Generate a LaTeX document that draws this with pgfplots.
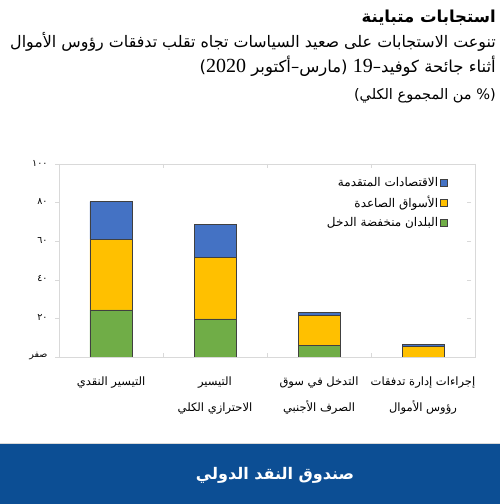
\documentclass[border=0pt]{standalone}
\usepackage{fontspec}
\usepackage{pgfplots}
\pgfplotsset{compat=1.18}
\setmainfont{DejaVu Sans}
\newfontfamily\arabicfont[Script=Arabic]{DejaVu Sans}
\newfontfamily\latinserif{Liberation Serif}
\TeXXeTstate=1
\definecolor{cblue}{HTML}{4472C4}
\definecolor{cyellow}{HTML}{FFC000}
\definecolor{cgreen}{HTML}{70AD47}
\definecolor{cedge}{HTML}{404040}
\definecolor{footblue}{HTML}{0C4E94}
\definecolor{framegray}{HTML}{D9D9D9}
\begin{document}
\begin{tikzpicture}
% header texts
\node[anchor=east, inner sep=0pt, font=\arabicfont\bfseries\fontsize{16.5}{18}\selectfont] at (496pt,486pt) {\beginR استجابات متباينة\endR};
\node[anchor=east, inner sep=0pt, font=\arabicfont\fontsize{15.9}{18}\selectfont] at (496pt,462pt) {\beginR تنوعت الاستجابات على صعيد السياسات تجاه تقلب تدفقات رؤوس الأموال\endR};
\node[anchor=east, inner sep=0pt, font=\arabicfont\fontsize{16.5}{18}\selectfont] at (496pt,438pt) {\beginR أثناء جائحة كوفيد–\beginL{\latinserif\fontsize{20}{20}\selectfont 19}\endL{} (مارس–أكتوبر \beginL{\latinserif\fontsize{20}{20}\selectfont 2020}\endL{})\endR};
\node[anchor=east, inner sep=0pt, font=\arabicfont\fontsize{14.5}{16}\selectfont] at (496pt,408pt) {\beginR (\% من المجموع الكلي)\endR};
\begin{axis}[
  at={(59pt,147pt)}, anchor=south west,
  scale only axis, width=416pt, height=193pt,
  ybar stacked, bar width=42pt,
  xmin=-0.5, xmax=3.5, ymin=0, ymax=100,
  xtick={-0.5,0.5,1.5,2.5,3.5},
  x tick label as interval,
  xticklabels={{\arabicfont\beginR التيسير النقدي\endR},{\arabicfont\beginR التيسير\endR\\\beginR الاحترازي الكلي\endR},{\arabicfont\beginR التدخل في سوق\endR\\\beginR الصرف الأجنبي\endR},{\arabicfont\beginR إجراءات إدارة تدفقات\endR\\\beginR رؤوس الأموال\endR},{}},
  x tick label style={align=center, font=\arabicfont\fontsize{11.5}{26}\selectfont, anchor=north, yshift=-16pt},
  ytick={0,20,40,60,80,100},
  yticklabels={{\arabicfont\beginR صفر\endR},{\arabicfont ٢٠},{\arabicfont ٤٠},{\arabicfont ٦٠},{\arabicfont ٨٠},{\arabicfont ١٠٠}},
  y tick label style={font=\arabicfont\fontsize{9.5}{11}\selectfont, anchor=east, xshift=-8pt, yshift=1pt},
  tick align=inside, major tick length=4pt,
  xtick style={draw=framegray},
  ytick style={draw=framegray, xshift=-4pt},
  axis line style={draw=framegray},
  reverse legend,
  legend plot pos=right,
  legend cell align=right,
  legend style={draw=none, fill=none, at={(0.935,0.94)}, anchor=north east, inner sep=0pt, row sep=4pt, font=\arabicfont\fontsize{12}{14}\selectfont},
  legend image code/.code={\draw[#1, draw=cedge, line width=0.6pt] (0pt,-3.5pt) rectangle (7pt,3.5pt);},
  every axis plot/.append style={draw=cedge, line width=0.8pt},
]
\addplot[fill=cgreen] coordinates {(0,24.4) (1,19.7) (2,6.0) (3,0)};
\addplot[fill=cyellow] coordinates {(0,36.7) (1,32.0) (2,15.3) (3,5.4)};
\addplot[fill=cblue] coordinates {(0,19.4) (1,17.2) (2,1.6) (3,1.3)};
\legend{{\arabicfont\beginR البلدان منخفضة الدخل\endR},{\arabicfont\beginR الأسواق الصاعدة\endR},{\arabicfont\beginR الاقتصادات المتقدمة\endR}}
\end{axis}
\fill[footblue] (0,0) rectangle (500pt,61pt);
\draw[black!15, line width=0.8pt] (0,61pt) -- (500pt,61pt);
\node[text=white, font=\arabicfont\bfseries\fontsize{16}{18}\selectfont] at (275pt,29pt) {\beginR صندوق النقد الدولي\endR};
\pgfresetboundingbox
\path[use as bounding box] (0,0) rectangle (500pt,504pt);
\end{tikzpicture}
\end{document}
